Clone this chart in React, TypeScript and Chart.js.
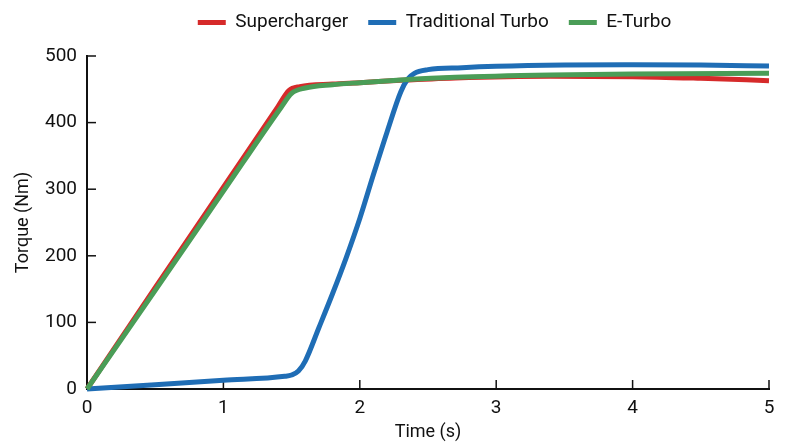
import React, { useEffect, useRef } from 'react';
import { Chart, registerables } from 'chart.js';

Chart.register(...registerables);

// ---- Data ----
const seriesNames = ['Supercharger', 'Traditional Turbo', 'E-Turbo'];
const seriesColors = ['#d62a2a', '#1f6db5', '#4a9d57'];

const superchargerTime = [0, 0.5, 1, 1.4, 1.48, 1.56, 1.8, 2, 2.3, 2.7, 3.4, 4, 4.5, 5];
const superchargerTorque = [0, 152, 303, 424, 448, 454, 458, 460, 463.5, 467, 469.5, 469, 466.5, 463];

const turboTime = [0, 0.5, 1, 1.45, 1.5, 1.55, 1.6, 1.7, 1.8, 1.9, 2, 2.1, 2.2, 2.3, 2.35, 2.4, 2.5, 2.75, 3, 3.5, 4, 4.5, 5];
const turboTorque = [0, 6.5, 13, 19, 21, 27, 42, 92, 143, 197, 256, 322, 386, 446, 465, 474, 479.5, 482.5, 484.5, 486.5, 487, 486.5, 485];

const eTurboTime = [0, 0.5, 1, 1.42, 1.5, 1.6, 1.8, 2, 2.3, 2.7, 3.4, 4, 5];
const eTurboTorque = [0, 148, 297, 422, 444, 452, 457, 460, 464, 468, 471.5, 473, 474];

const xTickValues = [0, 1, 2, 3, 4, 5];
const yTickValues = [0, 100, 200, 300, 400, 500];
const xTitle = 'Time (s)';
const yTitle = 'Torque (Nm)';

const FONT = 'Roboto, "Liberation Sans", sans-serif';
const INK = '#111111';

const toPoints = (xs: number[], ys: number[]) => xs.map((x, i) => ({ x, y: ys[i] }));

const inwardTicks = {
  id: 'inwardTicks',
  beforeDatasetsDraw(chart: any) {
    const { ctx, chartArea, scales } = chart;
    ctx.save();
    ctx.strokeStyle = INK;
    ctx.lineWidth = 1.5;
    scales.x.ticks.forEach((t: any) => {
      const px = scales.x.getPixelForValue(t.value);
      ctx.beginPath();
      ctx.moveTo(px, chartArea.bottom);
      ctx.lineTo(px, chartArea.bottom - 9);
      ctx.stroke();
    });
    scales.y.ticks.forEach((t: any) => {
      const py = scales.y.getPixelForValue(t.value);
      ctx.beginPath();
      ctx.moveTo(chartArea.left, py);
      ctx.lineTo(chartArea.left + 9, py);
      ctx.stroke();
    });
    ctx.restore();
  },
};

const legendTweak = {
  id: 'legendTweak',
  beforeInit(chart: any) {
    const lg = chart.legend;
    if (lg && !lg.__wrapped) {
      const fit = lg.fit;
      lg.fit = function () {
        fit.call(this);
        this.height = 56;
      };
      lg.__wrapped = true;
    }
  },
  afterLayout(chart: any) {
    const lg = chart.legend;
    if (lg) {
      lg.left += 50;
      lg.right += 50;
      lg.top -= 7;
      lg.bottom -= 7;
    }
  },
};

export default function App() {
  const canvasRef = useRef<HTMLCanvasElement | null>(null);

  useEffect(() => {
    const canvas = canvasRef.current;
    if (!canvas) return;
    const datasets = [
      { label: seriesNames[0], data: toPoints(superchargerTime, superchargerTorque), color: seriesColors[0], order: 2 },
      { label: seriesNames[1], data: toPoints(turboTime, turboTorque), color: seriesColors[1], order: 1 },
      { label: seriesNames[2], data: toPoints(eTurboTime, eTurboTorque), color: seriesColors[2], order: 0 },
    ].map((d) => ({
      label: d.label,
      data: d.data,
      borderColor: d.color,
      backgroundColor: d.color,
      borderWidth: 5,
      pointRadius: 0,
      fill: false,
      cubicInterpolationMode: 'monotone' as const,
      clip: false as any,
      order: d.order,
    }));

    const chart = new Chart(canvas, {
      type: 'line',
      data: { datasets },
      plugins: [inwardTicks, legendTweak],
      options: {
        animation: false,
        responsive: false,
        devicePixelRatio: 1,
        layout: { padding: { left: 0, right: 31, top: 0, bottom: 0 } },
        plugins: {
          tooltip: { enabled: false },
          legend: {
            position: 'top',
            labels: {
              color: INK,
              font: { family: FONT, size: 19 },
              boxWidth: 28,
              boxHeight: 5,
              padding: 20,
              generateLabels: (c: any) =>
                c.data.datasets.map((ds: any, i: number) => ({
                  text: ds.label,
                  fillStyle: ds.borderColor,
                  strokeStyle: ds.borderColor,
                  lineWidth: 0,
                  hidden: false,
                  datasetIndex: i,
                  fontColor: INK,
                })),
            },
          },
        },
        scales: {
          x: {
            type: 'linear',
            min: 0,
            max: 5,
            afterBuildTicks: (s: any) => {
              s.ticks = xTickValues.map((v) => ({ value: v }));
            },
            afterFit: (s: any) => {
              s.height = 58;
            },
            grid: { display: false, drawTicks: false },
            border: { display: true, color: INK, width: 2 },
            ticks: { color: INK, font: { family: FONT, size: 19 }, padding: 8, maxRotation: 0 },
            title: { display: true, text: xTitle, color: INK, font: { family: FONT, size: 18 }, padding: { top: 0, bottom: 4 } },
          },
          y: {
            type: 'linear',
            min: 0,
            max: 500,
            afterBuildTicks: (s: any) => {
              s.ticks = yTickValues.map((v) => ({ value: v }));
            },
            afterFit: (s: any) => {
              s.width = 87;
            },
            grid: { display: false, drawTicks: false },
            border: { display: true, color: INK, width: 2 },
            ticks: { color: INK, font: { family: FONT, size: 19 }, padding: 10 },
            title: { display: true, text: yTitle, color: INK, font: { family: FONT, size: 18 }, padding: { top: 13, bottom: 0 } },
          },
        },
      },
    });
    return () => chart.destroy();
  }, []);

  return (
    <div style={{ position: 'absolute', left: 0, top: 0, width: 800, height: 447, background: '#fff' }}>
      <canvas ref={canvasRef} width={800} height={447} style={{ width: 800, height: 447, display: 'block' }} />
    </div>
  );
}
